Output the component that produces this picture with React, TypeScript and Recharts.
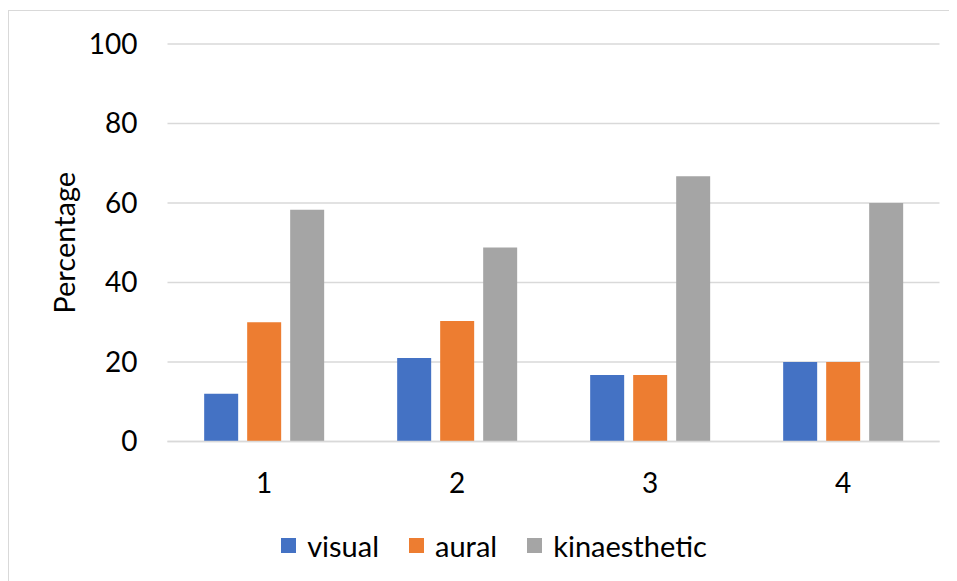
import { BarChart, Bar, XAxis, YAxis, CartesianGrid, Legend } from "recharts";

const groups = ["1", "2", "3", "4"];
const visual = [12, 21, 16.7, 20];
const aural = [30, 30.3, 16.7, 20];
const kinaesthetic = [58.3, 48.8, 66.7, 60];
const yTicks = [0, 20, 40, 60, 80, 100];

const seriesInfo = [
  { key: "visual", name: "visual", color: "#4472C4" },
  { key: "aural", name: "aural", color: "#ED7D31" },
  { key: "kinaesthetic", name: "kinaesthetic", color: "#A5A5A5" },
];

const data = groups.map((g, i) => ({
  group: g,
  visual: visual[i],
  aural: aural[i],
  kinaesthetic: kinaesthetic[i],
}));

const FONT = "Lato, 'Open Sans', sans-serif";

const renderLegend = () => (
  <div
    style={{
      display: "flex",
      justifyContent: "center",
      alignItems: "center",
      height: 30,
      fontFamily: FONT,
      fontSize: 29,
      color: "#000",
    }}
  >
    {seriesInfo.map((s, i) => (
      <div
        key={s.key}
        style={{ display: "flex", alignItems: "center", marginLeft: i === 0 ? 0 : 30 }}
      >
        <span
          style={{ width: 15, height: 15, background: s.color, marginRight: 11, display: "inline-block" }}
        />
        <span>{s.name}</span>
      </div>
    ))}
  </div>
);

const YLabel = (props: any) => {
  const vb = props.viewBox || { x: 0, y: 0, width: 0, height: 0 };
  const x = vb.x + 54;
  const y = vb.y + vb.height / 2;
  return (
    <text
      x={x}
      y={y}
      transform={`rotate(-90, ${x}, ${y})`}
      textAnchor="middle"
      dominantBaseline="central"
      fontFamily={FONT}
      fontSize={29}
      fill="#000"
    >
      Percentage
    </text>
  );
};

export default function App() {
  return (
    <div style={{ paddingTop: 2 }}>
      <div
        style={{
          borderTop: "1px solid #d9d9d9",
          borderLeft: "1px solid #d9d9d9",
          width: 960,
          height: 600,
          background: "#fff",
        }}
      >
        <BarChart
          width={948}
          height={570}
          data={data}
          margin={{ top: 33, right: 17.5, left: 0, bottom: 49.5 }}
          barCategoryGap="19%"
          barGap={9}
        >
          <CartesianGrid vertical={false} stroke="#d9d9d9" strokeWidth={1.5} />
          <XAxis
            dataKey="group"
            height={60}
            axisLine={{ stroke: "#d9d9d9", strokeWidth: 1.5 }}
            tickLine={false}
            tickSize={0}
            tickMargin={32}
            tick={{ fill: "#000", fontSize: 28, fontFamily: FONT }}
          />
          <YAxis
            width={158.5}
            domain={[0, 100]}
            ticks={yTicks}
            axisLine={false}
            tickLine={false}
            tickSize={0}
            tickMargin={30}
            tick={{ fill: "#000", fontSize: 28, fontFamily: FONT }}
            label={<YLabel />}
          />
          <Legend
            verticalAlign="bottom"
            content={renderLegend}
            wrapperStyle={{ left: 0, width: 970, top: 519, bottom: "auto", height: 30 }}
          />
          {seriesInfo.map((s) => (
            <Bar key={s.key} dataKey={s.key} name={s.name} fill={s.color} isAnimationActive={false} />
          ))}
        </BarChart>
      </div>
    </div>
  );
}
